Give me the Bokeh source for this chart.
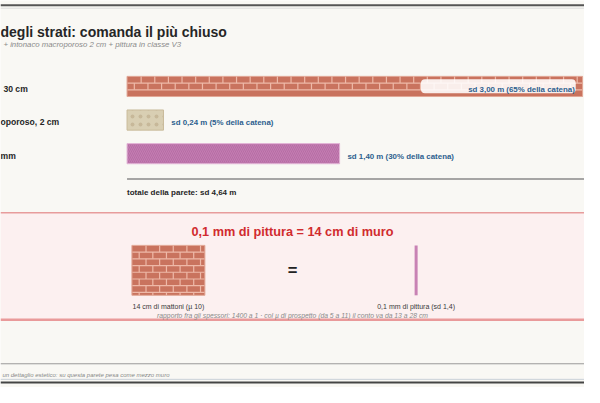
from bokeh.plotting import figure
from bokeh.models import Range1d, BoxAnnotation, Label
from bokeh.core.properties import value
from bokeh.embed import file_html
from bokeh.resources import INLINE

# ---------------- data ----------------
title = "degli strati: comanda il più chiuso"
subtitle = "+ intonaco macroporoso 2 cm + pittura in classe V3"
layer_labels = ["30 cm", "oporoso, 2 cm", "mm"]
sd_values = [3.00, 0.24, 1.40]
sd_share = [65, 5, 30]
sd_total = 4.64
panel_title = "0,1 mm di pittura = 14 cm di muro"
brick_caption = "14 cm di mattoni (µ 10)"
paint_caption = "0,1 mm di pittura (sd 1,4)"
ratio_note = "rapporto fra gli spessori: 1400 a 1 · col µ di prospetto (da 5 a 11) il conto va da 13 a 28 cm"
footer_note = "un dettaglio estetico: su questa parete pesa come mezzo muro"


def fmt(v):
    return f"{v:.2f}".replace(".", ",")


bar_texts = [f"sd {fmt(v)} m ({s}% della catena)" for v, s in zip(sd_values, sd_share)]
total_text = f"totale della parete: sd {fmt(sd_total)} m"

# ---------------- style / layout ----------------
W, H = 584, 387
S = W / 600.0
FONT = "Liberation Sans"
BG = "#f9f8f4"
DARK = "#262626"
BLUE = "#2d5f8e"
RED = "#d12b2e"
GRAY = "#8a8a8a"
BRICK = "#c9735e"
MORTAR = "#eeb9a8"
PLASTER = "#d9cfb3"
PAINT = "#c47cb2"

PX0 = 130.0     # pixel where sd = 0
PXM = 156.0     # pixels per metre of sd
bar_y = [89.5, 124.5, 159.5]
bar_h = 21
label_x = [3, 0, 0]
label_base = [92.5, 127, 162]


def fs(px):
    return f"{px * S:.1f}px"


p = figure(width=W, height=H, x_range=Range1d(0, 600), y_range=Range1d(403, 0),
           output_backend="svg", toolbar_location=None, min_border=0,
           x_axis_type=None, y_axis_type=None,
           background_fill_color=BG, border_fill_color=BG, outline_line_color=None)
p.grid.visible = False
p.extra_x_ranges = {"sd": Range1d(-PX0 / PXM, (600 - PX0) / PXM)}


def txt(x, y, t, size, color=DARK, style="normal", align="left", baseline="alphabetic", **kw):
    p.text(x=x, y=y, text=t, text_font=value(FONT), text_font_size=fs(size),
           text_font_style=style, text_color=color, text_align=align,
           text_baseline=baseline, **kw)


# top rules
p.segment(x0=[0], x1=[600], y0=[5], y1=[5], line_color="#555555", line_width=2)
p.segment(x0=[0], x1=[600], y0=[8], y1=[8], line_color="#dcdcdc", line_width=1)

# titles
txt([0], [32.3], [title], 14.4, style="bold")
txt([3], [46], [subtitle], 8.0, color=GRAY, style="italic")

# layer labels
txt(label_x, label_base, layer_labels, 8.8, style="bold")

# bars
fills = [BRICK, PLASTER, PAINT]
edges = ["#e2a897", "#c9bb9b", "#e3b6d7"]
hatch = [None, "dot", "left_diagonal_line"]
hatch_col = [BRICK, "#b8a684", "#a45d93"]
hatch_alpha = [0.9, 0.55, 0.45]
for i in range(3):
    p.hbar(y=[bar_y[i]], left=[0], right=[sd_values[i]], height=bar_h,
           x_range_name="sd", fill_color=fills[i], line_color=edges[i], line_width=1,
           hatch_pattern=hatch[i], hatch_color=hatch_col[i],
           hatch_scale=8 if i == 1 else 4, hatch_weight=1 if i == 2 else 1.1,
           hatch_alpha=hatch_alpha[i])


def bricks(x0, x1, y0, y1, row_h=7, brick_w=14, joint_rows=None):
    xs0, xs1, ys0, ys1 = [], [], [], []
    n_rows = int(-(-(y1 - y0) // row_h))
    for r in range(1, n_rows):
        y = y0 + r * row_h
        if y < y1 - 1:
            xs0.append(x0); xs1.append(x1); ys0.append(y); ys1.append(y)
    for r in range(n_rows):
        if joint_rows is not None and r not in joint_rows:
            continue
        ya = y0 + r * row_h
        yb = min(y0 + (r + 1) * row_h, y1)
        x = x0 + (brick_w / 2 if r % 2 else brick_w)
        while x < x1 - 1:
            xs0.append(x); xs1.append(x); ys0.append(ya); ys1.append(yb)
            x += brick_w
    p.segment(x0=xs0, x1=xs1, y0=ys0, y1=ys1, line_color=MORTAR, line_width=1.2)


bar_end_px = PX0 + PXM * sd_values[0]
bricks(PX0 + 0.5, bar_end_px - 0.5, bar_y[0] - bar_h / 2, bar_y[0] + bar_h / 2,
       joint_rows=[0, 1])

# label inside the first (long) bar
box_r = bar_end_px - 7
p.add_layout(BoxAnnotation(left=box_r - 159, right=box_r, top=82, bottom=96.5,
                           fill_color="white", fill_alpha=0.88, line_color=None,
                           border_radius=4))
p.add_layout(Label(x=box_r - 1, y=label_base[0], text=bar_texts[0], text_align="right",
                   text_baseline="alphabetic", text_font=FONT, text_font_size=fs(8.1),
                   text_font_style="bold", text_color=BLUE))

# labels next to the shorter bars
txt(sd_values[1:], label_base[1:], bar_texts[1:], 8.1, color=BLUE, style="bold",
    x_range_name="sd", x_offset=8 * S)

# total
p.segment(x0=[PX0], x1=[600], y0=[186], y1=[186], line_color=GRAY, line_width=1.5)
txt([PX0], [199.5], [total_text], 8.2, style="bold")

# comparison panel
p.quad(left=[0], right=[600], top=[221], bottom=[333], fill_color="#fcf0f0", line_color=None)
p.segment(x0=[0], x1=[600], y0=[221], y1=[221], line_color="#e79c9c", line_width=1.5)
p.segment(x0=[0], x1=[600], y0=[332.5], y1=[332.5], line_color="#e99a9a", line_width=2.5)
txt([300], [241], [panel_title], 13.0, color=RED, style="bold", align="center")

p.quad(left=[135], right=[210], top=[255], bottom=[307], fill_color=BRICK,
       line_color="#e2a897", line_width=1)
bricks(135.5, 209.5, 255, 307)
txt([300], [281], ["="], 17, color="#222222", style="bold", align="center", baseline="middle")
p.segment(x0=[427], x1=[427], y0=[255], y1=[307], line_color="#c882b4", line_width=3)

txt([172.5, 427], [318.5, 318.5], [brick_caption, paint_caption], 7.2, color="#3a3a3a",
    align="center")
txt([300], [328.5], [ratio_note], 7.0, color="#8a8a8a", style="italic", align="center")

# footer
p.segment(x0=[0], x1=[600], y0=[378.3], y1=[378.3], line_color="#999999", line_width=1)
txt([2], [390], [footer_note], 6.2, color="#888888", style="italic")
p.segment(x0=[0], x1=[600], y0=[394.5], y1=[394.5], line_color="#c9d1d8", line_width=1)
p.segment(x0=[0], x1=[600], y0=[397.8], y1=[397.8], line_color="#444444", line_width=2)

open("out.html", "w").write(file_html(p, INLINE))
